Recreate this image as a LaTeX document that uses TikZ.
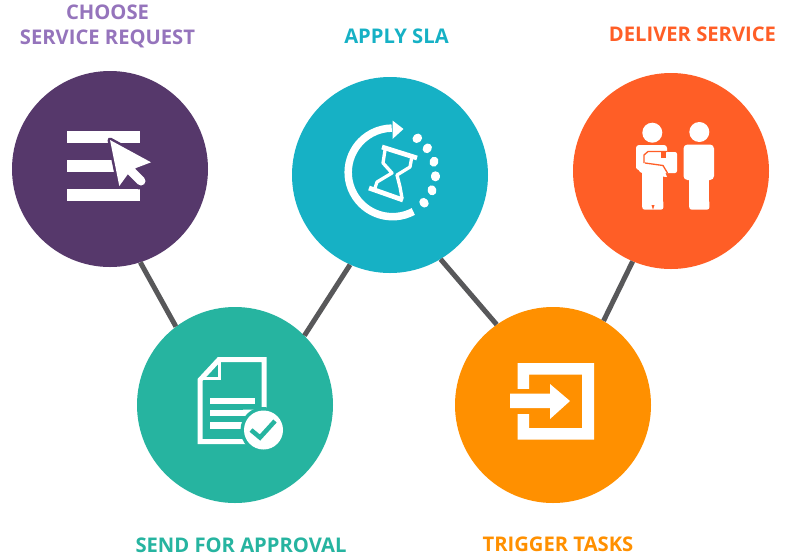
\documentclass[tikz,border=0pt]{standalone}
\usepackage{fontspec}
\setsansfont{Open Sans}
\definecolor{cpurple}{HTML}{56386B}
\definecolor{cblue}{HTML}{16B1C5}
\definecolor{cred}{HTML}{FF5E26}
\definecolor{cgreen}{HTML}{26B4A0}
\definecolor{corange}{HTML}{FF9000}
\definecolor{clink}{HTML}{58585A}
\definecolor{tpurple}{HTML}{9574BC}
\tikzset{
  stage/.style={circle,minimum size=196pt,inner sep=0pt,fill=#1},
  link/.style={draw=clink,line width=5pt},
  caption/.style={font=\sffamily\bfseries\fontsize{20.2}{26}\selectfont,align=center,text=#1},
}
\begin{document}
\begin{tikzpicture}[x=1pt,y=-1pt]
\useasboundingbox (0,0) rectangle (790,558);
\fill[white] (0,0) rectangle (790,558);

% stages
\node[stage=cpurple] (choose) at (110,169) {};
\node[stage=cblue] (sla) at (390,175) {};
\node[stage=cred] (deliver) at (671,171) {};
\node[stage=cgreen] (approve) at (235,405) {};
\node[stage=corange] (trigger) at (553,405) {};

% links between stages
\draw[link] (choose.-72) -- (approve.127.5);
\draw[link] (sla.-114.4) -- (approve.45.4);
\draw[link] (sla.-59) -- (trigger.125);
\draw[link] (deliver.-113.7) -- (trigger.59);

% captions
\node[caption=tpurple] (capa) at (107.5,26.5) {CHOOSE\\[-1pt]SERVICE REQUEST};
\node[caption=cblue] (capb) at (396.5,36) {APPLY SLA};
\node[caption=cred] (capc) at (692.5,34.5) {DELIVER SERVICE};
\node[caption=cgreen] (capd) at (241,545.5) {SEND FOR APPROVAL};
\node[caption=corange] (cape) at (558,544.5) {TRIGGER TASKS};

% list with pointer
\fill[white] (67.3,131.3) rectangle (140,142.7);
\fill[white] (67.3,160.3) rectangle (140,171.7);
\fill[white] (67.3,189.3) rectangle (140,200.7);
\draw[cpurple,line width=5pt,line join=round,line cap=round,fill=cpurple]
  (110,140) -- (151,162.3) -- (136,168) -- (146,182) -- (139,187) -- (128,174) -- (119.3,186) -- cycle;
\fill[white] (110,140) -- (151,162.3) -- (136,168) -- (128,174) -- (119.3,186) -- cycle;
\draw[white,line width=9pt,line cap=round] (131,171) -- (141,181);

% hourglass inside a turning arrow
\draw[white,line width=7.5pt] (413.3,211.5) arc[start angle=62,end angle=269,radius=44.3];
\fill[white] (392.5,120.5) -- (403.5,129) -- (392.5,139) -- cycle;
\foreach \dx/\dy/\da in {417.3/138.3/40,427.3/148.3/55,434/161.7/70,435.3/176.3/90,432/190.3/105,424/202.7/130}
  \draw[white,line width=8.4pt,line cap=round,rotate around={\da:(\dx,\dy)}] (\dx-0.8,\dy) -- (\dx+0.8,\dy);
\draw[white,line width=4.8pt] (382,147) -- (417,158);
\draw[white,line width=4.8pt] (369,188) -- (403,200);
\draw[white,line width=3.3pt,line join=round]
  (385,150) -- (383,163) -- (392,173) -- (377,182) -- (375,188);
\draw[white,line width=3.3pt,line join=round]
  (412,156) -- (410,167) -- (397,175) -- (400,187) -- (402,198);

% two people handing over a parcel
\fill[white] (652.3,132.7) circle[radius=10];
\fill[white] (699.3,132) circle[radius=10];
\fill[white,rounded corners=3pt] (636,145) rectangle (667,170);
\fill[white] (642.3,165) rectangle (663.3,207);
\fill[white,rounded corners=2pt] (642.3,200) rectangle (663.3,209.5);
\fill[cred] (651.5,205) -- (653,209.7) -- (654.5,205) -- cycle;
\fill[white,rounded corners=2pt] (650,152) rectangle (677,173);
\fill[white] (636,152) rectangle (645,168);
\fill[white] (636,166) -- (665,172) -- (667,177) -- (647,175) -- (640,172) -- cycle;
\draw[cred,line width=1.3pt,line join=round] (644,163) -- (644,155) -- (648,151.5) -- (667,151.5);
\draw[cred,line width=1.3pt] (645,163) -- (663,165.5) -- (667.5,173);
\fill[cred] (661,152) rectangle (666,158);
\fill[white,rounded corners=4pt] (683.5,144.5) rectangle (714,180);
\fill[white] (689.3,175) rectangle (709.3,207);
\fill[white,rounded corners=2pt] (689.3,200) rectangle (709.3,209.5);

% document with a tick
\draw[white,line width=5pt,line join=miter] (243,412) -- (264,412) -- (264,359.5) -- (219,359.5) -- (200,380) -- (200,441.5) -- (246,441.5);
\draw[white,line width=3pt,line join=miter] (219,360) -- (219,378) -- (201,378);
\fill[white] (209.7,397.5) rectangle (255,404);
\fill[white] (209.7,409.5) rectangle (247,416);
\fill[white] (209.7,422) rectangle (243,428.5);
\fill[cgreen] (263.5,430) circle[radius=23];
\fill[white] (263.5,430) circle[radius=19.5];
\draw[cgreen,line width=4.5pt] (251,430) -- (260,437.5) -- (275,421);

% box entered by an arrow
\fill[white,even odd rule] (517.7,363) rectangle (594,439.7) (529,374.7) rectangle (582,428);
\fill[corange] (517,389) rectangle (530,414);
\fill[white] (510,393.5) rectangle (550,408) (550,384) -- (570,401) -- (550,419) -- cycle;
\end{tikzpicture}
\end{document}
